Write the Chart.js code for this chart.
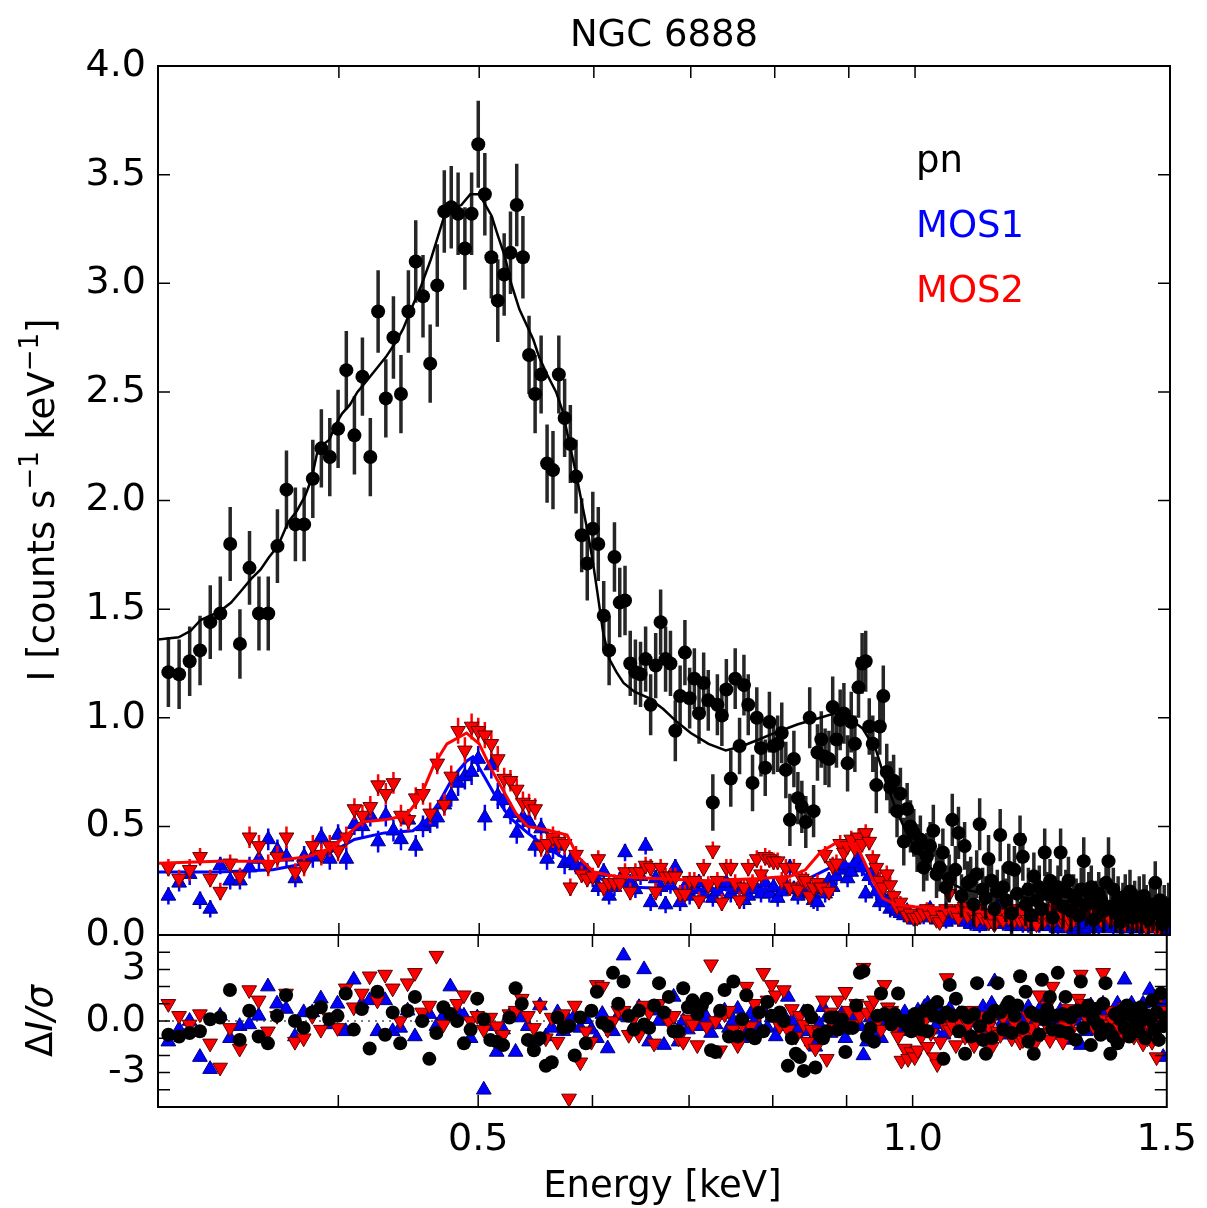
<!DOCTYPE html>
<html>
<head>
<meta charset="utf-8">
<title>NGC 6888</title>
<script src="https://cdn.jsdelivr.net/npm/chart.js@4.4.1/dist/chart.umd.min.js"></script>
<style>
  html, body { margin: 0; padding: 0; background: #fff; }
  #page { position: relative; width: 1207px; height: 1208px; overflow: hidden; }
  #page canvas { position: absolute; left: 0; }
  #spec { top: 0; }
  #resid { top: 925px; }
</style>
</head>
<body>
<div id="page">
  <canvas id="spec" width="1207" height="965"></canvas>
  <canvas id="resid" width="1207" height="283"></canvas>
</div>
<script>
// channel grid shared by the three EPIC cameras (keV)
const binStart = 0.305;
const binWidth = 0.00525;

// pn spectrum, counts s^-1 keV^-1
const pnRate = [
  1.21,1.20,1.26,1.31,1.44,1.48,1.80,1.34,1.69,1.48,
  1.48,1.79,2.05,1.89,1.89,2.10,2.24,2.20,2.33,2.60,
  2.30,2.57,2.20,2.87,2.47,2.75,2.49,2.87,3.10,2.94,
  2.63,2.99,3.33,3.35,3.32,3.16,3.32,3.64,3.41,3.12,
  2.92,3.04,3.14,3.36,3.12,2.67,2.49,2.58,2.17,2.14,
  2.58,2.38,2.26,2.11,1.84,1.71,1.87,1.80,1.47,1.31,
  1.74,1.53,1.54,1.25,1.21,1.20,1.27,1.06,1.24,1.44,
  1.27,1.25,0.94,1.10,1.30,1.09,1.18,1.02,1.16,1.08,
  0.61,1.06,1.01,1.13,0.72,1.18,0.87,1.15,1.06,0.70,
  1.00,0.86,0.77,0.98,0.87,0.88,0.93,0.76,0.53,0.81,
  0.63,0.59,0.52,1.00,0.57,0.84,0.90,0.82,0.81,1.05,
  0.90,0.99,1.02,0.79,0.98,0.88,1.14,1.25,1.26,0.96,
  0.88,0.69,0.96,1.10,0.75,0.68,0.71,0.57,0.65,0.43,
  0.58,0.50,0.47,0.40,0.44,0.31,0.36,0.41,0.48,0.28,
  0.31,0.38,0.22,0.26,0.53,0.30,0.47,0.18,0.41,0.24,
  0.25,0.14,0.28,0.51,0.21,0.17,0.35,0.25,0.12,0.20,
  0.46,0.22,0.16,0.31,0.10,0.30,0.19,0.44,0.36,0.14,
  0.21,0.09,0.27,0.16,0.22,0.12,0.38,0.19,0.25,0.08,
  0.17,0.22,0.38,0.13,0.20,0.25,0.11,0.18,0.16,0.09,
  0.21,0.34,0.14,0.19,0.22,0.07,0.15,0.19,0.16,0.11,
  0.24,0.34,0.13,0.21,0.10,0.17,0.06,0.14,0.18,0.12,
  0.20,0.08,0.15,0.11,0.17,0.09,0.18,0.13,0.07,0.14,
  0.12,0.24,0.10,0.16,0.05,0.13,0.09,0.14
];
const pnErr = [
  0.16,0.16,0.16,0.16,0.17,0.17,0.17,0.16,0.17,0.17,
  0.17,0.17,0.18,0.17,0.17,0.18,0.18,0.18,0.18,0.18,
  0.18,0.18,0.18,0.19,0.18,0.19,0.18,0.19,0.19,0.19,
  0.18,0.19,0.19,0.19,0.19,0.19,0.19,0.20,0.19,0.19,
  0.19,0.19,0.19,0.19,0.19,0.18,0.18,0.18,0.18,0.18,
  0.18,0.18,0.18,0.17,0.17,0.17,0.17,0.17,0.16,0.16,
  0.16,0.16,0.16,0.15,0.15,0.15,0.15,0.14,0.15,0.15,
  0.15,0.15,0.14,0.14,0.15,0.14,0.14,0.14,0.14,0.14,
  0.13,0.14,0.14,0.14,0.13,0.14,0.13,0.14,0.14,0.13,
  0.14,0.13,0.13,0.14,0.13,0.13,0.14,0.13,0.12,0.13,
  0.12,0.12,0.12,0.14,0.12,0.13,0.13,0.13,0.13,0.14,
  0.13,0.14,0.14,0.13,0.14,0.13,0.14,0.14,0.14,0.13,
  0.13,0.13,0.13,0.14,0.13,0.12,0.12,0.12,0.12,0.11,
  0.12,0.12,0.11,0.11,0.11,0.11,0.11,0.11,0.12,0.11,
  0.11,0.11,0.10,0.11,0.12,0.11,0.12,0.10,0.11,0.10,
  0.11,0.10,0.11,0.12,0.10,0.10,0.11,0.11,0.10,0.10,
  0.12,0.10,0.10,0.11,0.10,0.11,0.10,0.11,0.11,0.10,
  0.10,0.10,0.11,0.10,0.10,0.10,0.11,0.10,0.10,0.10,
  0.10,0.10,0.11,0.10,0.10,0.11,0.10,0.10,0.10,0.10,
  0.10,0.11,0.10,0.10,0.10,0.09,0.10,0.10,0.10,0.10,
  0.10,0.11,0.10,0.10,0.09,0.10,0.09,0.10,0.10,0.10,
  0.10,0.09,0.10,0.10,0.10,0.09,0.10,0.10,0.09,0.10,
  0.10,0.10,0.09,0.10,0.09,0.10,0.09,0.10
];

// MOS1 spectrum
const mos1Rate = [
  0.18,0.24,0.28,0.16,0.12,0.32,0.25,0.25,0.31,0.35,
  0.44,0.39,0.36,0.26,0.36,0.36,0.45,0.35,0.46,0.35,
  0.51,0.50,0.55,0.43,0.55,0.48,0.44,0.53,0.41,0.50,
  0.52,0.54,0.60,0.64,0.70,0.73,0.75,0.81,0.54,0.78,
  0.64,0.62,0.56,0.47,0.54,0.52,0.41,0.49,0.35,0.40,
  0.41,0.33,0.34,0.32,0.31,0.29,0.26,0.22,0.29,0.18,
  0.22,0.25,0.38,0.24,0.21,0.27,0.41,0.15,0.26,0.22,
  0.14,0.23,0.31,0.15,0.22,0.18,0.21,0.24,0.19,0.22,
  0.17,0.20,0.23,0.24,0.19,0.21,0.22,0.16,0.18,0.23,
  0.21,0.19,0.24,0.19,0.22,0.17,0.20,0.23,0.31,0.21,
  0.18,0.20,0.24,0.19,0.16,0.15,0.21,0.19,0.25,0.22,
  0.27,0.30,0.32,0.26,0.29,0.33,0.35,0.31,0.19,0.27,
  0.29,0.20,0.15,0.17,0.15,0.12,0.13,0.11,0.10,0.09,
  0.11,0.08,0.07,0.09,0.10,0.08,0.11,0.12,0.09,0.07,
  0.08,0.10,0.06,0.09,0.10,0.08,0.07,0.09,0.06,0.08,
  0.05,0.07,0.06,0.04,0.07,0.08,0.05,0.06,0.09,0.13,
  0.07,0.05,0.06,0.08,0.04,0.06,0.07,0.05,0.04,0.06,
  0.04,0.07,0.05,0.06,0.04,0.07,0.07,0.05,0.04,0.06,
  0.05,0.03,0.04,0.06,0.05,0.03,0.04,0.02,0.05,0.04,
  0.06,0.02,0.05,0.03,0.05,0.06,0.04,0.03,0.05,0.04,
  0.06,0.05,0.04,0.03,0.05,0.04,0.06,0.03,0.04,0.10,
  0.03,0.04,0.06,0.04,0.03,0.05,0.04,0.06,0.03,0.04,
  0.12,0.04,0.03,0.05,0.04,0.06,0.01,0.06
];

// MOS2 spectrum
const mos2Rate = [
  0.31,0.26,0.30,0.36,0.26,0.20,0.33,0.27,0.45,0.41,
  0.32,0.36,0.45,0.29,0.32,0.41,0.37,0.41,0.39,0.45,
  0.58,0.55,0.59,0.69,0.65,0.70,0.55,0.53,0.63,0.65,
  0.56,0.79,0.60,0.73,0.94,0.85,0.96,0.94,0.92,0.88,
  0.81,0.72,0.71,0.67,0.61,0.60,0.58,0.41,0.42,0.45,
  0.43,0.42,0.22,0.37,0.28,0.26,0.27,0.35,0.22,0.24,
  0.24,0.24,0.29,0.20,0.29,0.29,0.32,0.31,0.20,0.31,
  0.27,0.27,0.27,0.19,0.19,0.25,0.25,0.16,0.31,0.23,
  0.39,0.25,0.15,0.31,0.31,0.24,0.16,0.22,0.31,0.24,
  0.35,0.28,0.36,0.35,0.34,0.34,0.25,0.31,0.22,0.31,
  0.21,0.26,0.25,0.18,0.22,0.24,0.22,0.37,0.20,0.32,
  0.33,0.42,0.38,0.41,0.44,0.40,0.45,0.42,0.47,0.43,
  0.35,0.31,0.25,0.22,0.28,0.23,0.18,0.13,0.15,0.11,
  0.09,0.10,0.08,0.08,0.09,0.10,0.12,0.09,0.11,0.07,
  0.06,0.09,0.12,0.19,0.11,0.11,0.08,0.12,0.13,0.09,
  0.11,0.10,0.07,0.12,0.08,0.10,0.06,0.09,0.05,0.11,
  0.08,0.07,0.10,0.08,0.12,0.07,0.09,0.07,0.11,0.06,
  0.07,0.10,0.08,0.05,0.09,0.11,0.07,0.09,0.12,0.06,
  0.13,0.10,0.07,0.09,0.05,0.08,0.11,0.07,0.09,0.10,
  0.13,0.12,0.12,0.10,0.09,0.11,0.08,0.10,0.07,0.09,
  0.14,0.08,0.07,0.10,0.08,0.06,0.09,0.07,0.05,0.08,
  0.10,0.06,0.08,0.05,0.07,0.09,0.06,0.04,0.08,0.05,
  0.07,0.04,0.06,0.03,0.11,0.13,0.08,0.10
];
const mosErr = [
  0.04,0.04,0.05,0.04,0.04,0.04,0.04,0.04,0.05,0.05,
  0.05,0.05,0.05,0.04,0.05,0.05,0.05,0.05,0.05,0.05,
  0.05,0.05,0.05,0.05,0.05,0.05,0.05,0.05,0.05,0.05,
  0.05,0.05,0.05,0.05,0.06,0.06,0.06,0.06,0.06,0.06,
  0.06,0.05,0.05,0.05,0.05,0.05,0.05,0.05,0.05,0.05,
  0.05,0.05,0.04,0.04,0.04,0.04,0.04,0.04,0.04,0.04,
  0.04,0.04,0.04,0.04,0.04,0.04,0.04,0.04,0.04,0.04,
  0.04,0.04,0.04,0.04,0.04,0.04,0.04,0.04,0.04,0.04,
  0.04,0.04,0.04,0.04,0.04,0.04,0.04,0.04,0.04,0.04,
  0.04,0.04,0.04,0.04,0.04,0.04,0.04,0.04,0.04,0.04,
  0.04,0.04,0.04,0.04,0.04,0.04,0.04,0.04,0.04,0.04,
  0.04,0.04,0.04,0.04,0.04,0.04,0.04,0.04,0.04,0.04,
  0.04,0.04,0.04,0.04,0.04,0.04,0.03,0.03,0.03,0.03,
  0.03,0.03,0.03,0.03,0.03,0.03,0.03,0.03,0.03,0.03,
  0.03,0.03,0.03,0.03,0.03,0.03,0.03,0.03,0.03,0.03,
  0.03,0.03,0.03,0.03,0.03,0.03,0.03,0.03,0.03,0.03,
  0.03,0.03,0.03,0.03,0.03,0.03,0.03,0.03,0.03,0.03,
  0.03,0.03,0.03,0.03,0.03,0.03,0.03,0.03,0.03,0.03,
  0.03,0.03,0.03,0.03,0.03,0.03,0.03,0.03,0.03,0.03,
  0.03,0.03,0.03,0.03,0.03,0.03,0.03,0.03,0.03,0.03,
  0.03,0.03,0.03,0.03,0.03,0.03,0.03,0.03,0.03,0.03,
  0.03,0.03,0.03,0.03,0.03,0.03,0.03,0.03,0.03,0.03,
  0.03,0.03,0.03,0.03,0.03,0.03,0.03,0.03
];

// best-fit models
const pnModelE = [0.300,0.310,0.316,0.321,0.331,0.337,0.342,0.348,0.353,0.358,0.363,0.369,0.374,0.379,0.383,
  0.387,0.394,0.398,0.402,0.407,0.412,0.418,0.425,0.431,0.438,0.443,0.450,0.456,0.463,0.468,0.473,0.478,0.486,
  0.493,0.500,0.505,0.510,0.515,0.521,0.526,0.533,0.539,0.545,0.550,0.557,0.565,0.571,0.576,0.583,0.589,0.594,
  0.599,0.603,0.609,0.615,0.622,0.629,0.640,0.655,0.670,0.685,0.700,0.720,0.740,0.760,0.780,0.800,0.830,0.860,
  0.880,0.900,0.920,0.940,0.955,0.970,0.985,1.000,1.020,1.050,1.080,1.120,1.200,1.300,1.400,1.500];
const pnModel = [1.36,1.37,1.40,1.45,1.49,1.53,1.58,1.64,1.68,1.74,1.79,1.90,1.95,2.02,2.10,
  2.24,2.28,2.35,2.40,2.44,2.50,2.55,2.61,2.66,2.73,2.79,2.90,2.99,3.11,3.21,3.31,3.34,3.36,
  3.41,3.41,3.36,3.31,3.22,3.12,3.00,2.88,2.81,2.74,2.66,2.58,2.50,2.41,2.29,2.13,1.98,1.86,
  1.72,1.59,1.39,1.27,1.21,1.16,1.12,1.09,1.04,0.98,0.93,0.88,0.85,0.87,0.90,0.93,0.97,1.00,
  1.02,1.00,0.95,0.85,0.70,0.58,0.48,0.40,0.32,0.25,0.21,0.19,0.17,0.15,0.13,0.12];

const mos1ModelE = [0.300,0.330,0.360,0.380,0.400,0.410,0.430,0.450,0.460,0.470,0.480,0.490,0.495,0.505,0.515,
  0.525,0.540,0.555,0.570,0.590,0.610,0.640,0.700,0.780,0.820,0.850,0.880,0.910,0.930,0.950,0.980,1.020,1.100,1.300,1.500];
const mos1Model = [0.29,0.29,0.30,0.33,0.40,0.44,0.47,0.48,0.53,0.62,0.73,0.80,0.82,0.72,0.62,
  0.54,0.47,0.41,0.36,0.30,0.25,0.22,0.21,0.21,0.22,0.27,0.32,0.33,0.25,0.14,0.09,0.07,0.06,0.05,0.05];

const mos2ModelE = [0.300,0.330,0.360,0.380,0.395,0.405,0.415,0.430,0.445,0.455,0.465,0.475,0.490,0.500,0.510,
  0.520,0.530,0.540,0.560,0.575,0.585,0.600,0.620,0.660,0.720,0.780,0.820,0.840,0.860,0.880,0.910,0.925,0.935,
  0.950,0.970,1.000,1.050,1.100,1.200,1.300,1.400,1.500];
const mos2Model = [0.33,0.34,0.34,0.36,0.40,0.46,0.52,0.53,0.55,0.63,0.78,0.88,0.93,0.88,0.76,
  0.66,0.56,0.50,0.48,0.46,0.36,0.29,0.27,0.26,0.25,0.26,0.27,0.30,0.38,0.42,0.42,0.32,0.25,
  0.17,0.14,0.13,0.12,0.11,0.10,0.09,0.085,0.08];

// residuals, (data - model) / sigma
const pnRes = [
  -0.8,-0.9,-0.7,-0.6,0.1,0.2,1.8,-1.1,0.6,-0.9,
  -1.3,0.3,1.5,0.0,-0.4,0.5,0.8,0.1,0.3,1.6,
  -0.5,0.7,-1.6,1.7,-0.8,0.5,-1.3,0.6,1.4,0.0,
  -2.2,-0.7,0.8,0.4,0.0,-1.3,-0.5,1.3,0.1,-1.1,
  -1.2,-1.4,0.2,1.9,1.0,-1.1,-1.7,-1.0,-2.6,-2.4,
  0.2,-0.4,-0.3,-2.0,0.2,-1.3,0.6,1.7,-0.1,-0.3,
  2.8,1.0,2.3,0.3,-0.5,0.6,-0.2,-0.4,0.9,2.2,
  0.5,1.4,-0.6,-0.6,1.9,0.8,1.2,0.4,0.9,1.3,
  -1.7,-1.8,0.6,1.8,-0.9,2.3,-0.9,0.1,1.5,-0.8,
  -1.0,0.5,-0.6,1.1,0.3,0.3,0.5,0.0,-2.6,-1.0,
  -1.9,-2.1,-2.9,0.6,0.2,-2.7,-0.8,-1.0,-0.6,0.2,
  0.2,-0.5,0.1,-1.8,-0.4,-0.4,0.9,2.8,2.9,-0.9,
  -0.4,-1.2,0.3,1.6,0.4,0.3,-0.2,0.4,1.6,0.0,
  0.0,-0.3,-0.6,0.4,0.0,-0.5,0.6,-0.6,0.8,0.3,
  1.1,0.2,-2.2,0.5,2.1,0.3,1.3,-0.6,0.5,-1.9,
  0.2,-0.9,0.4,2.2,-0.3,-1.1,-1.9,0.2,-1.0,0.6,
  2.2,0.5,-0.5,0.8,1.1,-0.7,0.3,0.9,2.6,-0.4,
  1.7,-1.2,0.5,-1.9,0.3,-0.8,2.4,0.1,0.7,1.4,
  -0.5,0.3,2.8,-0.6,0.4,1.4,-0.7,0.2,0.5,-1.1,
  0.6,2.3,-0.4,0.6,0.9,-1.4,0.1,0.7,-0.2,-0.8,
  1.0,2.2,-0.5,-1.9,-0.9,0.4,-1.3,0.1,0.6,-0.4,
  0.9,-0.9,0.3,-0.4,0.7,-0.6,0.8,0.1,-1.0,0.3,
  0.1,1.2,-0.5,0.5,-1.1,1.6,-0.3,0.2
];
const mos1Res = [
  -1.2,-0.5,0.0,-2.1,-2.8,0.3,-1.0,-0.3,-0.2,0.3,
  2.0,1.0,0.7,-0.9,0.5,0.5,1.3,-0.2,1.0,-0.6,
  2.4,1.0,1.2,-0.6,1.2,-0.6,-0.4,0.6,-0.9,0.2,
  0.4,-0.3,0.3,2.0,0.6,0.3,-1.0,0.2,-4.0,-0.3,
  -1.8,-0.5,0.3,-1.8,0.2,-0.3,-1.2,0.9,-0.9,-0.4,
  0.5,-0.6,0.0,0.3,-0.4,0.1,-0.5,-1.0,0.4,-1.6,
  -0.6,0.3,3.8,0.2,-0.3,0.8,3.0,-1.2,0.6,0.0,
  -1.4,0.1,1.4,-1.2,0.0,-0.5,0.0,0.5,-0.3,0.2,
  -0.7,-0.2,0.4,0.6,-0.4,0.0,0.7,-1.0,-0.5,0.4,
  0.0,-0.4,0.6,-0.4,0.2,-0.9,-0.3,0.3,1.4,0.0,
  -0.7,-0.4,0.5,-0.6,-1.2,-1.5,-0.2,0.8,0.2,-0.7,
  -0.2,0.1,0.4,-1.0,-0.4,0.3,0.6,-0.3,-2.0,-1.2,
  0.2,-0.8,-0.7,-1.0,0.4,0.0,0.3,-0.2,0.1,-0.4,
  0.5,-0.3,-0.6,0.2,0.6,-0.1,0.8,1.0,0.2,-0.5,
  -0.2,0.6,-0.8,0.3,0.7,0.0,-0.4,0.4,-0.7,0.1,
  -0.6,0.3,-0.1,-0.9,0.4,0.8,-0.4,0.1,1.0,2.3,
  0.3,-0.5,0.0,0.7,-0.8,0.1,0.5,-0.3,-0.7,0.2,
  -0.6,0.8,-0.2,0.3,-0.6,0.4,0.9,0.0,-0.5,0.5,
  0.1,-0.8,-0.4,0.6,0.2,-0.7,-0.2,-1.1,0.4,0.0,
  0.8,-1.4,0.3,-0.6,0.4,0.9,-0.1,-0.5,0.4,0.0,
  1.0,0.5,-0.1,-0.6,0.4,0.0,1.0,-0.6,-0.1,2.4,
  -0.6,-0.1,1.0,0.1,-0.5,0.5,0.0,1.0,-0.6,-0.1,
  1.8,-0.1,-0.5,0.5,0.0,0.9,-2.1,1.0
];
const mos2Res = [
  1.0,0.3,-0.2,0.4,-1.3,-2.7,-0.4,-1.6,1.8,1.2,
  -0.6,0.3,1.6,-1.2,-1.0,0.3,-0.5,0.2,-0.4,1.9,
  0.8,1.6,2.6,1.2,2.7,1.9,0.0,2.2,2.8,0.5,
  0.9,3.8,-0.2,0.5,1.0,1.5,0.0,0.3,-0.5,0.2,
  -0.3,-0.8,0.4,0.6,1.3,0.3,-0.4,0.9,-1.0,0.2,
  -1.2,0.4,-4.5,0.9,-2.4,-0.6,-1.2,2.1,2.0,-0.5,
  0.0,0.6,0.6,-0.8,0.2,-0.8,0.9,0.5,-1.3,1.0,
  0.4,0.0,0.3,-1.0,-1.2,0.1,-0.2,-1.4,0.9,-0.3,
  3.3,0.0,-1.7,0.4,0.6,-0.5,-1.4,-0.2,2.0,-0.3,
  1.0,0.4,2.8,1.2,2.1,1.5,-0.3,1.8,-0.5,0.7,
  -0.9,0.3,-0.2,-1.2,-0.5,-1.6,-0.6,1.2,-2.2,0.5,
  -0.4,1.2,0.3,1.7,0.6,-0.2,1.0,0.3,3.1,0.5,
  0.9,1.2,0.0,-0.5,2.1,0.8,0.6,-0.4,-0.9,-2.3,
  -1.6,-2.2,-1.8,-2.1,-1.7,-0.9,0.0,-1.5,-0.7,-2.1,
  -2.5,-1.2,-0.1,2.5,-0.5,-0.3,-1.4,0.0,0.4,-0.9,
  -0.2,0.6,-1.4,0.0,-0.9,0.3,-1.2,-0.3,-1.5,0.4,
  -0.6,-0.8,0.2,-0.5,0.9,-1.0,-0.1,-0.8,-1.2,-1.1,
  -0.9,0.3,-0.4,-1.4,0.0,1.5,-0.7,0.0,0.9,-1.1,
  2.0,0.4,-0.6,0.1,-1.2,-0.3,0.7,-0.6,0.1,0.4,
  1.3,2.7,1.0,0.4,0.0,0.6,-0.3,0.5,-0.5,0.1,
  2.8,-0.2,-0.5,0.6,0.0,-0.7,0.4,-0.4,-1.0,0.8,
  0.7,-0.7,0.1,-0.9,-0.3,0.4,-0.6,-1.3,0.2,-1.0,
  -0.3,-1.2,-0.5,-2.1,0.5,1.5,0.0,0.6
];

// axis ticks
const xTickMarks = [0.4, 0.5, 0.6, 0.7, 0.8, 0.9, 1.0];
const xTickLabels = [0.5, 1.0, 1.5];
const specTickMarks = [0.5, 1.0, 1.5, 2.0, 2.5, 3.0, 3.5];
const residTickMarks = [-4, -3, -2, -1, 0, 1, 2, 3, 4];
const residTickLabels = [-3, 0, 3];

const energy = pnRate.map((_, i) => +(binStart + binWidth * i).toFixed(5));

function pairs(xs, ys) {
  return ys.map((y, i) => ({ x: xs[i], y: y }));
}

const FONT = 'DejaVu Sans';
Chart.defaults.font.family = FONT;
Chart.defaults.font.size = 38;
Chart.defaults.color = '#000';

// box around the plot area with inward ticks on all four sides
function makeFrame(xMarks, yMarks) {
  return {
    id: 'frame',
    afterDatasetsDraw(chart) {
      const { ctx, chartArea: a, scales } = chart;
      const len = 12;
      ctx.save();
      ctx.strokeStyle = '#000';
      ctx.lineWidth = 1.5;
      ctx.beginPath();
      xMarks.forEach(v => {
        const px = scales.x.getPixelForValue(v);
        ctx.moveTo(px, a.bottom); ctx.lineTo(px, a.bottom - len);
        ctx.moveTo(px, a.top); ctx.lineTo(px, a.top + len);
      });
      yMarks.forEach(v => {
        const py = scales.y.getPixelForValue(v);
        ctx.moveTo(a.left, py); ctx.lineTo(a.left + len, py);
        ctx.moveTo(a.right, py); ctx.lineTo(a.right - len, py);
      });
      ctx.stroke();
      ctx.lineWidth = 2;
      ctx.strokeRect(a.left, a.top, a.right - a.left, a.bottom - a.top);
      ctx.restore();
    }
  };
}

// vertical 1-sigma bars, drawn just under each dataset's markers
const errorBars = {
  id: 'errorBars',
  beforeDatasetDraw(chart, args) {
    const ds = chart.data.datasets[args.index];
    if (!ds.errors) return;
    const { ctx, chartArea: a } = chart;
    const ys = chart.scales.y;
    ctx.save();
    ctx.beginPath();
    ctx.rect(a.left, a.top, a.right - a.left, a.bottom - a.top);
    ctx.clip();
    ctx.strokeStyle = ds.errColor;
    ctx.lineWidth = ds.errWidth;
    ctx.beginPath();
    args.meta.data.forEach((pt, i) => {
      const v = ds.data[i].y, e = ds.errors[i];
      ctx.moveTo(pt.x, ys.getPixelForValue(v + e));
      ctx.lineTo(pt.x, ys.getPixelForValue(v - e));
    });
    ctx.stroke();
    ctx.restore();
  }
};

function drawRotated(ctx, cx, cy, parts) {
  ctx.save();
  ctx.translate(cx, cy);
  ctx.rotate(-Math.PI / 2);
  ctx.textAlign = 'left';
  ctx.textBaseline = 'middle';
  ctx.fillStyle = '#000';
  let total = 0;
  parts.forEach(p => { ctx.font = p.font; total += ctx.measureText(p.text).width; });
  let x = -total / 2;
  parts.forEach(p => {
    ctx.font = p.font;
    ctx.fillText(p.text, x, p.dy || 0);
    x += ctx.measureText(p.text).width;
  });
  ctx.restore();
}

const specText = {
  id: 'specText',
  afterDraw(chart) {
    const ctx = chart.ctx;
    ctx.save();
    ctx.fillStyle = '#000';
    ctx.font = '37px ' + FONT;
    ctx.textAlign = 'center';
    ctx.textBaseline = 'middle';
    ctx.fillText('NGC 6888', 664, 36);

    ctx.textAlign = 'left';
    ctx.fillStyle = '#000';
    ctx.fillText('pn', 916, 162);
    ctx.fillStyle = '#0000ff';
    ctx.fillText('MOS1', 916, 227);
    ctx.fillStyle = '#ff0000';
    ctx.fillText('MOS2', 916, 292);
    ctx.restore();

    const big = '37px ' + FONT, small = '26px ' + FONT;
    drawRotated(ctx, 44, 500, [
      { text: 'I [counts s', font: big },
      { text: '\u22121', font: small, dy: -13 },
      { text: ' keV', font: big },
      { text: '\u22121', font: small, dy: -13 },
      { text: ']', font: big }
    ]);
  }
};

const residText = {
  id: 'residText',
  beforeDatasetsDraw(chart) {
    const { ctx, chartArea: a, scales } = chart;
    const y0 = scales.y.getPixelForValue(0);
    ctx.save();
    ctx.setLineDash([2, 5]);
    ctx.strokeStyle = '#555';
    ctx.lineWidth = 1.5;
    ctx.beginPath();
    ctx.moveTo(a.left, y0);
    ctx.lineTo(a.right, y0);
    ctx.stroke();
    ctx.restore();
  },
  afterDraw(chart) {
    drawRotated(chart.ctx, 42, 96, [
      { text: '\u0394', font: '37px ' + FONT },
      { text: 'I/\u03c3', font: 'italic 37px ' + FONT }
    ]);
  }
};

function markerSet(label, data, style, order) {
  return Object.assign({ label: label, data: data, order: order, clip: 0 }, style);
}

const pnStyle = { pointStyle: 'circle', pointRadius: 7, backgroundColor: '#000', borderColor: '#000', borderWidth: 0 };
const mos1Style = { pointStyle: 'triangle', pointRadius: 8.5, backgroundColor: '#0000ff', borderColor: '#00007a', borderWidth: 1 };
const mos2Style = { pointStyle: 'triangle', pointRotation: 180, pointRadius: 8.5, backgroundColor: '#ff0000', borderColor: '#5a0000', borderWidth: 1 };

function modelSet(label, xs, ys, color, width, order) {
  return { label: label, data: pairs(xs, ys), showLine: true, borderColor: color, borderWidth: width,
           pointRadius: 0, tension: 0, fill: false, order: order, clip: 0 };
}

const hiddenGrid = { display: false, drawTicks: false };

// keep tick labels from pushing the plot area around
function pinY(s) {
  s.width = 158;
  s.paddingTop = 0;
  s.paddingBottom = 0;
}

new Chart(document.getElementById('spec'), {
  type: 'scatter',
  data: {
    datasets: [
      modelSet('pn model', pnModelE, pnModel, '#000', 2.5, 0),
      Object.assign(markerSet('pn', pairs(energy, pnRate), pnStyle, 1),
        { errors: pnErr, errColor: 'rgba(0,0,0,0.85)', errWidth: 3.5 }),
      modelSet('MOS2 model', mos2ModelE, mos2Model, '#ff0000', 3, 2),
      Object.assign(markerSet('MOS2', pairs(energy, mos2Rate), mos2Style, 3),
        { errors: mosErr, errColor: '#ff0000', errWidth: 2.5 }),
      modelSet('MOS1 model', mos1ModelE, mos1Model, '#0000ff', 3, 4),
      Object.assign(markerSet('MOS1', pairs(energy, mos1Rate), mos1Style, 5),
        { errors: mosErr, errColor: '#0000ff', errWidth: 2.5 })
    ]
  },
  options: {
    responsive: false,
    animation: false,
    devicePixelRatio: 1,
    events: [],
    layout: { padding: { left: 0, right: 37, top: 66, bottom: 0 } },
    plugins: { legend: { display: false }, tooltip: { enabled: false } },
    scales: {
      x: {
        type: 'logarithmic', min: 0.3, max: 1.5,
        grid: hiddenGrid, border: { display: false },
        ticks: { display: false },
        afterFit(s) { s.height = 30; }
      },
      y: {
        type: 'linear', min: 0, max: 4,
        grid: hiddenGrid, border: { display: false },
        ticks: { stepSize: 0.5, padding: 12, callback: v => Number(v).toFixed(1) },
        afterFit: pinY
      }
    }
  },
  plugins: [errorBars, makeFrame(xTickMarks, specTickMarks), specText]
});

new Chart(document.getElementById('resid'), {
  type: 'scatter',
  data: {
    datasets: [
      markerSet('pn', pairs(energy, pnRes), pnStyle, 0),
      markerSet('MOS2', pairs(energy, mos2Res), mos2Style, 1),
      markerSet('MOS1', pairs(energy, mos1Res), mos1Style, 2)
    ]
  },
  options: {
    responsive: false,
    animation: false,
    devicePixelRatio: 1,
    events: [],
    layout: { padding: { left: 0, right: 37, top: 10, bottom: 0 } },
    plugins: { legend: { display: false }, tooltip: { enabled: false } },
    scales: {
      x: {
        type: 'logarithmic', min: 0.3, max: 1.5,
        grid: hiddenGrid, border: { display: false },
        afterBuildTicks(s) { s.ticks = xTickLabels.map(v => ({ value: v })); },
        ticks: { padding: 10, maxRotation: 0, autoSkip: false, callback: v => Number(v).toFixed(1) },
        title: { display: true, text: 'Energy [keV]', font: { size: 37, lineHeight: 1.0 }, padding: { top: 0, bottom: 2 } },
        afterFit(s) { s.height = 101; }
      },
      y: {
        type: 'linear', min: -5, max: 5,
        grid: hiddenGrid, border: { display: false },
        afterBuildTicks(s) { s.ticks = residTickLabels.map(v => ({ value: v })); },
        ticks: { padding: 12, callback: v => (v === 0 ? '0.0' : String(v)) },
        afterFit: pinY
      }
    }
  },
  plugins: [makeFrame(xTickMarks, residTickMarks), residText]
});
</script>
</body>
</html>
